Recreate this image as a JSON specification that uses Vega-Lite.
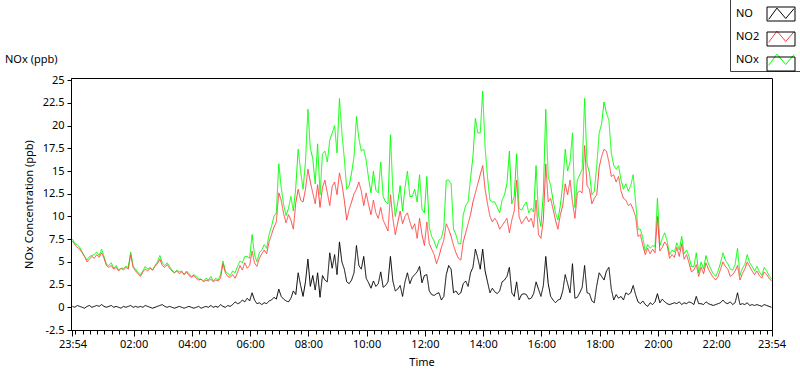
{
  "$schema": "https://vega.github.io/schema/vega-lite/v6.json",
  "width": 701,
  "height": 252,
  "autosize": {"type": "none"},
  "padding": {"left": 71, "top": 78, "right": 28, "bottom": 39},
  "background": "white",
  "config": {
    "font": "Noto Sans",
    "view": {"stroke": "#000000", "strokeWidth": 1},
    "axis": {"grid": false, "domainColor": "#000000", "tickColor": "#000000", "labelColor": "#000000", "titleColor": "#000000", "labelFontSize": 11, "titleFontSize": 11, "titleFontWeight": "normal"}
  },
  "title": {"text": "NOx (ppb)", "anchor": "start", "frame": "group", "dx": -66, "offset": 0, "dy": 78.5, "baseline": "alphabetic", "fontSize": 11, "fontWeight": "normal", "color": "#000000"},
  "data": {"values": [
{"t":0,"NO":0.1,"NO2":7.3,"NOx":7.5},{"t":5,"NO":0.0,"NO2":6.9,"NOx":7.0},{"t":10,"NO":0.2,"NO2":6.6,"NOx":6.9},{"t":15,"NO":0.1,"NO2":6.4,"NOx":6.6},{"t":20,"NO":0.0,"NO2":6.0,"NOx":6.1},{"t":25,"NO":-0.1,"NO2":5.6,"NOx":5.6},{"t":30,"NO":0.1,"NO2":5.0,"NOx":5.2},{"t":35,"NO":0.2,"NO2":5.3,"NOx":5.6},{"t":40,"NO":0.0,"NO2":5.6,"NOx":5.7},{"t":45,"NO":0.1,"NO2":5.4,"NOx":5.8},
{"t":50,"NO":0.2,"NO2":5.8,"NOx":6.1},{"t":55,"NO":0.1,"NO2":5.5,"NOx":5.7},{"t":60,"NO":0.3,"NO2":6.0,"NOx":6.4},{"t":65,"NO":0.1,"NO2":5.4,"NOx":5.6},{"t":70,"NO":0.0,"NO2":4.6,"NOx":4.7},{"t":75,"NO":0.1,"NO2":4.4,"NOx":4.6},{"t":80,"NO":0.2,"NO2":4.6,"NOx":4.9},{"t":85,"NO":0.0,"NO2":4.2,"NOx":4.3},{"t":90,"NO":0.1,"NO2":4.4,"NOx":4.6},{"t":95,"NO":0.0,"NO2":4.0,"NOx":4.1},
{"t":100,"NO":-0.1,"NO2":4.3,"NOx":4.3},{"t":105,"NO":0.1,"NO2":4.1,"NOx":4.3},{"t":110,"NO":0.0,"NO2":4.4,"NOx":4.5},{"t":115,"NO":0.1,"NO2":4.2,"NOx":4.4},{"t":120,"NO":0.2,"NO2":5.8,"NOx":6.1},{"t":125,"NO":0.0,"NO2":4.4,"NOx":4.5},{"t":130,"NO":0.1,"NO2":4.0,"NOx":4.2},{"t":135,"NO":0.0,"NO2":3.7,"NOx":3.8},{"t":140,"NO":0.1,"NO2":3.4,"NOx":3.6},{"t":145,"NO":0.0,"NO2":3.9,"NOx":4.0},
{"t":150,"NO":0.2,"NO2":4.2,"NOx":4.5},{"t":155,"NO":0.1,"NO2":4.0,"NOx":4.2},{"t":160,"NO":0.0,"NO2":4.3,"NOx":4.4},{"t":165,"NO":-0.1,"NO2":4.1,"NOx":4.1},{"t":170,"NO":0.0,"NO2":4.5,"NOx":4.6},{"t":175,"NO":0.1,"NO2":4.8,"NOx":5.0},{"t":180,"NO":0.2,"NO2":5.3,"NOx":5.7},{"t":185,"NO":0.3,"NO2":4.6,"NOx":4.9},{"t":190,"NO":0.1,"NO2":4.4,"NOx":4.6},{"t":195,"NO":0.0,"NO2":4.7,"NOx":4.9},
{"t":200,"NO":0.1,"NO2":4.3,"NOx":4.5},{"t":205,"NO":0.0,"NO2":4.0,"NOx":4.1},{"t":210,"NO":-0.1,"NO2":3.8,"NOx":3.8},{"t":215,"NO":0.0,"NO2":4.0,"NOx":4.1},{"t":220,"NO":0.1,"NO2":3.7,"NOx":3.9},{"t":225,"NO":0.0,"NO2":3.9,"NOx":4.0},{"t":230,"NO":-0.1,"NO2":3.6,"NOx":3.6},{"t":235,"NO":0.0,"NO2":3.9,"NOx":4.0},{"t":240,"NO":0.1,"NO2":3.5,"NOx":3.7},{"t":245,"NO":0.0,"NO2":3.3,"NOx":3.4},
{"t":250,"NO":-0.1,"NO2":3.5,"NOx":3.6},{"t":255,"NO":0.0,"NO2":3.2,"NOx":3.4},{"t":260,"NO":0.1,"NO2":3.0,"NOx":3.1},{"t":265,"NO":-0.1,"NO2":3.1,"NOx":3.1},{"t":270,"NO":0.0,"NO2":2.8,"NOx":2.9},{"t":275,"NO":0.1,"NO2":3.0,"NOx":3.2},{"t":280,"NO":0.0,"NO2":2.9,"NOx":3.0},{"t":285,"NO":0.2,"NO2":3.1,"NOx":3.4},{"t":290,"NO":0.0,"NO2":2.8,"NOx":2.9},{"t":295,"NO":0.1,"NO2":3.0,"NOx":3.2},
{"t":300,"NO":0.0,"NO2":2.9,"NOx":3.0},{"t":305,"NO":0.3,"NO2":3.2,"NOx":3.6},{"t":310,"NO":0.1,"NO2":4.8,"NOx":5.1},{"t":315,"NO":0.0,"NO2":3.8,"NOx":4.0},{"t":320,"NO":0.2,"NO2":3.4,"NOx":3.7},{"t":325,"NO":0.1,"NO2":3.3,"NOx":3.5},{"t":330,"NO":0.3,"NO2":3.6,"NOx":4.0},{"t":335,"NO":0.6,"NO2":3.2,"NOx":3.8},{"t":340,"NO":0.4,"NO2":3.8,"NOx":4.5},{"t":345,"NO":0.5,"NO2":4.6,"NOx":5.1},
{"t":350,"NO":0.8,"NO2":4.1,"NOx":4.9},{"t":355,"NO":0.6,"NO2":4.9,"NOx":5.6},{"t":360,"NO":1.0,"NO2":4.3,"NOx":5.6},{"t":365,"NO":0.7,"NO2":4.6,"NOx":5.4},{"t":370,"NO":1.6,"NO2":6.2,"NOx":8.0},{"t":375,"NO":0.8,"NO2":4.9,"NOx":5.8},{"t":380,"NO":0.4,"NO2":4.5,"NOx":5.0},{"t":385,"NO":0.5,"NO2":5.4,"NOx":6.0},{"t":390,"NO":0.3,"NO2":5.9,"NOx":6.3},{"t":395,"NO":0.5,"NO2":6.3,"NOx":6.9},
{"t":400,"NO":0.4,"NO2":5.9,"NOx":6.5},{"t":405,"NO":0.7,"NO2":7.2,"NOx":8.0},{"t":410,"NO":0.8,"NO2":8.0,"NOx":8.9},{"t":415,"NO":1.1,"NO2":8.8,"NOx":10.0},{"t":420,"NO":0.9,"NO2":9.4,"NOx":10.4},{"t":425,"NO":2.0,"NO2":12.6,"NOx":15.8},{"t":430,"NO":1.2,"NO2":11.8,"NOx":13.2},{"t":435,"NO":0.9,"NO2":10.3,"NOx":11.3},{"t":440,"NO":0.7,"NO2":9.3,"NOx":10.1},{"t":445,"NO":0.6,"NO2":10.2,"NOx":10.9},
{"t":450,"NO":1.0,"NO2":9.6,"NOx":12.2},{"t":455,"NO":1.8,"NO2":8.6,"NOx":10.6},{"t":460,"NO":1.4,"NO2":11.5,"NOx":13.2},{"t":465,"NO":3.8,"NO2":13.0,"NOx":17.4},{"t":470,"NO":2.4,"NO2":11.8,"NOx":15.0},{"t":475,"NO":1.2,"NO2":11.6,"NOx":13.0},{"t":480,"NO":2.8,"NO2":13.0,"NOx":16.0},{"t":485,"NO":5.3,"NO2":15.2,"NOx":21.8},{"t":490,"NO":2.3,"NO2":13.8,"NOx":17.5},{"t":495,"NO":3.5,"NO2":12.6,"NOx":16.4},
{"t":500,"NO":1.9,"NO2":11.4,"NOx":13.6},{"t":505,"NO":3.8,"NO2":13.5,"NOx":18.0},{"t":510,"NO":1.1,"NO2":11.0,"NOx":12.4},{"t":515,"NO":3.5,"NO2":13.2,"NOx":16.9},{"t":520,"NO":3.0,"NO2":14.0,"NOx":17.2},{"t":525,"NO":2.8,"NO2":12.6,"NOx":16.0},{"t":530,"NO":6.0,"NO2":11.2,"NOx":18.4},{"t":535,"NO":4.3,"NO2":13.3,"NOx":19.2},{"t":540,"NO":5.8,"NO2":13.8,"NOx":20.0},{"t":545,"NO":3.6,"NO2":12.4,"NOx":17.0},
{"t":550,"NO":7.2,"NO2":14.8,"NOx":23.0},{"t":555,"NO":5.0,"NO2":13.6,"NOx":19.2},{"t":560,"NO":4.2,"NO2":11.8,"NOx":16.4},{"t":565,"NO":2.8,"NO2":9.6,"NOx":13.0},{"t":570,"NO":2.6,"NO2":10.8,"NOx":13.4},{"t":575,"NO":3.0,"NO2":11.6,"NOx":14.8},{"t":580,"NO":3.8,"NO2":12.5,"NOx":16.6},{"t":585,"NO":6.8,"NO2":13.0,"NOx":21.0},{"t":590,"NO":4.6,"NO2":13.8,"NOx":18.6},{"t":595,"NO":4.2,"NO2":12.8,"NOx":17.2},
{"t":600,"NO":5.6,"NO2":11.2,"NOx":17.4},{"t":605,"NO":3.2,"NO2":12.6,"NOx":16.2},{"t":610,"NO":2.7,"NO2":11.3,"NOx":14.2},{"t":615,"NO":2.1,"NO2":10.2,"NOx":12.6},{"t":620,"NO":2.9,"NO2":11.8,"NOx":15.0},{"t":625,"NO":2.3,"NO2":10.4,"NOx":12.9},{"t":630,"NO":2.6,"NO2":9.8,"NOx":12.6},{"t":635,"NO":3.9,"NO2":11.0,"NOx":16.0},{"t":640,"NO":2.2,"NO2":9.6,"NOx":12.2},{"t":645,"NO":2.4,"NO2":9.0,"NOx":11.6},
{"t":650,"NO":2.8,"NO2":8.4,"NOx":11.4},{"t":655,"NO":5.6,"NO2":12.4,"NOx":19.0},{"t":660,"NO":2.9,"NO2":9.8,"NOx":12.9},{"t":665,"NO":1.8,"NO2":8.0,"NOx":10.0},{"t":670,"NO":2.0,"NO2":9.3,"NOx":11.5},{"t":675,"NO":2.4,"NO2":10.6,"NOx":13.4},{"t":680,"NO":1.2,"NO2":9.2,"NOx":10.6},{"t":685,"NO":2.8,"NO2":10.0,"NOx":13.2},{"t":690,"NO":3.8,"NO2":10.4,"NOx":15.0},{"t":695,"NO":2.6,"NO2":9.4,"NOx":12.2},
{"t":700,"NO":3.3,"NO2":8.6,"NOx":12.2},{"t":705,"NO":3.6,"NO2":9.2,"NOx":13.0},{"t":710,"NO":3.9,"NO2":7.6,"NOx":11.6},{"t":715,"NO":4.5,"NO2":9.8,"NOx":14.6},{"t":720,"NO":2.7,"NO2":8.0,"NOx":10.8},{"t":725,"NO":3.5,"NO2":6.8,"NOx":10.4},{"t":730,"NO":3.6,"NO2":9.4,"NOx":14.4},{"t":735,"NO":1.8,"NO2":7.0,"NOx":8.8},{"t":740,"NO":1.4,"NO2":6.4,"NOx":7.8},{"t":745,"NO":1.3,"NO2":5.8,"NOx":7.3},
{"t":750,"NO":1.5,"NO2":4.8,"NOx":6.5},{"t":755,"NO":1.6,"NO2":5.6,"NOx":7.4},{"t":760,"NO":0.8,"NO2":6.6,"NOx":7.6},{"t":765,"NO":1.2,"NO2":7.4,"NOx":8.8},{"t":770,"NO":3.6,"NO2":9.2,"NOx":14.0},{"t":775,"NO":4.6,"NO2":8.6,"NOx":14.0},{"t":780,"NO":4.2,"NO2":7.8,"NOx":13.6},{"t":785,"NO":1.6,"NO2":6.8,"NOx":8.6},{"t":790,"NO":1.8,"NO2":6.0,"NOx":8.0},{"t":795,"NO":1.4,"NO2":5.4,"NOx":7.0},
{"t":800,"NO":1.6,"NO2":5.2,"NOx":7.0},{"t":805,"NO":2.6,"NO2":7.2,"NOx":10.2},{"t":810,"NO":2.9,"NO2":8.2,"NOx":11.2},{"t":815,"NO":2.3,"NO2":9.2,"NOx":11.6},{"t":820,"NO":3.8,"NO2":10.2,"NOx":14.2},{"t":825,"NO":4.4,"NO2":11.6,"NOx":16.6},{"t":830,"NO":6.4,"NO2":12.6,"NOx":20.8},{"t":835,"NO":5.4,"NO2":13.6,"NOx":19.2},{"t":840,"NO":4.2,"NO2":14.6,"NOx":19.2},{"t":845,"NO":6.4,"NO2":15.6,"NOx":23.8},
{"t":850,"NO":4.0,"NO2":13.0,"NOx":17.6},{"t":855,"NO":2.8,"NO2":11.4,"NOx":14.3},{"t":860,"NO":1.6,"NO2":10.0,"NOx":11.8},{"t":865,"NO":2.1,"NO2":9.4,"NOx":11.6},{"t":870,"NO":1.7,"NO2":9.8,"NOx":11.6},{"t":875,"NO":1.5,"NO2":9.4,"NOx":11.0},{"t":880,"NO":1.8,"NO2":8.6,"NOx":10.4},{"t":885,"NO":2.8,"NO2":9.0,"NOx":11.8},{"t":890,"NO":3.0,"NO2":9.4,"NOx":12.4},{"t":895,"NO":3.4,"NO2":9.8,"NOx":13.6},
{"t":900,"NO":4.4,"NO2":8.2,"NOx":17.2},{"t":905,"NO":1.6,"NO2":9.6,"NOx":11.4},{"t":910,"NO":1.2,"NO2":10.6,"NOx":12.2},{"t":915,"NO":2.8,"NO2":14.0,"NOx":16.9},{"t":920,"NO":0.8,"NO2":10.0,"NOx":10.9},{"t":925,"NO":1.4,"NO2":9.2,"NOx":10.7},{"t":930,"NO":1.5,"NO2":9.6,"NOx":11.2},{"t":935,"NO":1.4,"NO2":10.0,"NOx":11.6},{"t":940,"NO":0.9,"NO2":9.4,"NOx":10.4},{"t":945,"NO":1.0,"NO2":9.8,"NOx":10.9},
{"t":950,"NO":1.5,"NO2":8.8,"NOx":10.5},{"t":955,"NO":2.8,"NO2":11.8,"NOx":15.6},{"t":960,"NO":2.0,"NO2":8.0,"NOx":10.2},{"t":965,"NO":1.2,"NO2":7.6,"NOx":8.9},{"t":970,"NO":2.4,"NO2":9.6,"NOx":12.6},{"t":975,"NO":5.6,"NO2":15.8,"NOx":21.8},{"t":980,"NO":2.6,"NO2":11.6,"NOx":14.4},{"t":985,"NO":1.2,"NO2":12.0,"NOx":13.4},{"t":990,"NO":0.8,"NO2":10.8,"NOx":11.8},{"t":995,"NO":0.5,"NO2":9.6,"NOx":10.4},
{"t":1000,"NO":0.8,"NO2":8.6,"NOx":9.6},{"t":1005,"NO":0.9,"NO2":10.2,"NOx":11.2},{"t":1010,"NO":1.8,"NO2":11.2,"NOx":13.6},{"t":1015,"NO":3.6,"NO2":13.6,"NOx":17.4},{"t":1020,"NO":2.6,"NO2":12.4,"NOx":15.0},{"t":1025,"NO":1.6,"NO2":14.0,"NOx":16.0},{"t":1030,"NO":4.8,"NO2":11.6,"NOx":19.2},{"t":1035,"NO":1.0,"NO2":9.8,"NOx":11.0},{"t":1040,"NO":1.1,"NO2":12.6,"NOx":14.0},{"t":1045,"NO":1.6,"NO2":12.8,"NOx":14.6},
{"t":1050,"NO":2.2,"NO2":12.6,"NOx":15.2},{"t":1055,"NO":4.6,"NO2":17.8,"NOx":23.0},{"t":1060,"NO":1.6,"NO2":13.4,"NOx":15.8},{"t":1065,"NO":1.5,"NO2":13.0,"NOx":14.8},{"t":1070,"NO":0.7,"NO2":11.4,"NOx":12.4},{"t":1075,"NO":0.5,"NO2":12.0,"NOx":12.8},{"t":1080,"NO":2.4,"NO2":12.4,"NOx":15.6},{"t":1085,"NO":3.8,"NO2":15.4,"NOx":19.2},{"t":1090,"NO":3.4,"NO2":16.6,"NOx":20.2},{"t":1095,"NO":3.0,"NO2":17.4,"NOx":22.6},
{"t":1100,"NO":4.0,"NO2":17.2,"NOx":21.4},{"t":1105,"NO":4.4,"NO2":16.0,"NOx":20.6},{"t":1110,"NO":2.0,"NO2":14.4,"NOx":17.0},{"t":1115,"NO":0.8,"NO2":14.6,"NOx":15.6},{"t":1120,"NO":1.4,"NO2":13.8,"NOx":15.2},{"t":1125,"NO":1.0,"NO2":14.4,"NOx":15.6},{"t":1130,"NO":1.2,"NO2":12.8,"NOx":14.0},{"t":1135,"NO":0.8,"NO2":12.0,"NOx":13.0},{"t":1140,"NO":1.6,"NO2":11.8,"NOx":13.6},{"t":1145,"NO":1.4,"NO2":11.2,"NOx":12.8},
{"t":1150,"NO":1.6,"NO2":11.4,"NOx":13.4},{"t":1155,"NO":2.4,"NO2":10.8,"NOx":14.6},{"t":1160,"NO":1.4,"NO2":10.0,"NOx":11.6},{"t":1165,"NO":0.6,"NO2":7.8,"NOx":8.6},{"t":1170,"NO":0.4,"NO2":8.0,"NOx":8.6},{"t":1175,"NO":0.7,"NO2":6.8,"NOx":7.6},{"t":1180,"NO":0.3,"NO2":5.8,"NOx":6.2},{"t":1185,"NO":0.1,"NO2":6.5,"NOx":6.9},{"t":1190,"NO":0.5,"NO2":5.9,"NOx":6.5},{"t":1195,"NO":0.3,"NO2":6.4,"NOx":6.8},
{"t":1200,"NO":0.6,"NO2":6.0,"NOx":6.7},{"t":1205,"NO":1.5,"NO2":10.0,"NOx":12.0},{"t":1210,"NO":0.5,"NO2":6.2,"NOx":6.8},{"t":1215,"NO":0.9,"NO2":6.6,"NOx":7.6},{"t":1220,"NO":0.6,"NO2":7.2,"NOx":8.2},{"t":1225,"NO":0.4,"NO2":6.8,"NOx":7.3},{"t":1230,"NO":0.3,"NO2":5.4,"NOx":5.8},{"t":1235,"NO":0.4,"NO2":5.8,"NOx":6.3},{"t":1240,"NO":0.5,"NO2":5.5,"NOx":6.1},{"t":1245,"NO":0.4,"NO2":6.6,"NOx":7.1},
{"t":1250,"NO":0.6,"NO2":5.6,"NOx":6.3},{"t":1255,"NO":0.3,"NO2":7.0,"NOx":7.8},{"t":1260,"NO":0.5,"NO2":5.3,"NOx":5.9},{"t":1265,"NO":0.4,"NO2":5.8,"NOx":6.3},{"t":1270,"NO":0.6,"NO2":4.9,"NOx":5.6},{"t":1275,"NO":0.5,"NO2":3.9,"NOx":4.5},{"t":1280,"NO":0.3,"NO2":4.1,"NOx":4.5},{"t":1285,"NO":1.2,"NO2":4.7,"NOx":6.0},{"t":1290,"NO":0.4,"NO2":3.4,"NOx":3.8},{"t":1295,"NO":0.4,"NO2":4.4,"NOx":5.0},
{"t":1300,"NO":0.3,"NO2":3.7,"NOx":4.2},{"t":1305,"NO":0.6,"NO2":4.9,"NOx":5.7},{"t":1310,"NO":0.4,"NO2":4.2,"NOx":4.8},{"t":1315,"NO":0.3,"NO2":3.7,"NOx":4.2},{"t":1320,"NO":0.2,"NO2":3.3,"NOx":3.7},{"t":1325,"NO":0.3,"NO2":3.0,"NOx":3.4},{"t":1330,"NO":0.4,"NO2":3.4,"NOx":4.0},{"t":1335,"NO":0.5,"NO2":4.2,"NOx":4.9},{"t":1340,"NO":0.8,"NO2":5.0,"NOx":6.0},{"t":1345,"NO":0.5,"NO2":4.5,"NOx":5.2},
{"t":1350,"NO":0.4,"NO2":4.2,"NOx":4.8},{"t":1355,"NO":0.6,"NO2":3.4,"NOx":4.2},{"t":1360,"NO":0.3,"NO2":3.6,"NOx":4.1},{"t":1365,"NO":0.5,"NO2":4.0,"NOx":4.7},{"t":1370,"NO":1.6,"NO2":4.6,"NOx":6.5},{"t":1375,"NO":0.3,"NO2":3.0,"NOx":3.5},{"t":1380,"NO":0.4,"NO2":3.7,"NOx":4.3},{"t":1385,"NO":0.3,"NO2":4.2,"NOx":4.7},{"t":1390,"NO":0.5,"NO2":5.0,"NOx":5.8},{"t":1395,"NO":0.2,"NO2":4.5,"NOx":4.9},
{"t":1400,"NO":0.3,"NO2":4.0,"NOx":4.5},{"t":1405,"NO":0.2,"NO2":3.6,"NOx":4.0},{"t":1410,"NO":0.3,"NO2":4.0,"NOx":4.5},{"t":1415,"NO":0.2,"NO2":3.5,"NOx":3.9},{"t":1420,"NO":0.1,"NO2":3.2,"NOx":3.5},{"t":1425,"NO":0.3,"NO2":3.9,"NOx":4.4},{"t":1430,"NO":0.2,"NO2":3.6,"NOx":4.0},{"t":1435,"NO":0.1,"NO2":3.2,"NOx":3.5},{"t":1440,"NO":0.0,"NO2":2.9,"NOx":3.1}
  ]},
  "encoding": {
    "y": {
      "field": "v", "type": "quantitative",
      "scale": {"domain": [-2.5, 25.25], "nice": false, "zero": false},
      "axis": {
        "values": [-2.5, 0, 2.5, 5, 7.5, 10, 12.5, 15, 17.5, 20, 22.5, 25],
        "labelExpr": "datum.value < 0 ? '-' + format(-datum.value, '.1~f') : format(datum.value, '.1~f')",
        "title": "NOx Concentration (ppb)", "tickSize": 4, "labelPadding": 3, "titlePadding": 8
      }
    },
    "color": {
      "field": "series", "type": "nominal",
      "scale": {"domain": ["NO", "NO2", "NOx"], "range": ["#000000", "#ff4444", "#00ff00"]},
      "legend": {
        "orient": "none", "legendX": 659, "legendY": -82, "title": null,
        "symbolType": "M-0.88,0.38L-0.29,-0.42L0.34,0.32L0.93,-0.38",
        "symbolSize": 784, "symbolStrokeWidth": 1, "symbolFillColor": "transparent",
        "symbolOffset": 33, "labelOffset": -59.5, "labelAlign": "left",
        "labelFontSize": 11, "labelColor": "#000000", "rowPadding": 1, "padding": 3.5,
        "strokeColor": "#404040"
      }
    },
    "strokeDash": {
      "field": "series", "type": "nominal",
      "scale": {"range": [[1, 0], [1, 0], [1, 0]]},
      "legend": {
        "orient": "none", "legendX": 659, "legendY": -82, "title": null,
        "symbolType": "M-1,-0.5H1V0.5H-1Z",
        "symbolSize": 784, "symbolStrokeWidth": 1, "symbolStrokeColor": "#000000", "symbolFillColor": "transparent",
        "symbolOffset": 33, "labelOffset": 0, "labelAlign": "left", "labelExpr": "' '",
        "labelFontSize": 11, "labelOpacity": 0, "rowPadding": 1, "padding": 3.5
      }
    }
  },
  "layer": [
    {
      "transform": [{"fold": ["NOx"], "as": ["series", "v"]}],
      "mark": {"type": "line", "strokeWidth": 1},
      "encoding": {
        "x": {
          "field": "t", "type": "quantitative",
          "scale": {"domain": [-3, 1441], "nice": false, "zero": false},
          "axis": {
            "orient": "bottom",
            "values": [0, 126, 246, 366, 486, 606, 726, 846, 966, 1086, 1206, 1326, 1440],
            "labelExpr": "timeFormat(datetime(2020, 0, 1, 23, 54 + datum.value), '%H:%M')",
            "title": "Time", "tickSize": 6, "labelPadding": 2, "titlePadding": 7,
            "labelFlush": false, "labelOverlap": false
          }
        }
      }
    },
    {
      "transform": [{"fold": ["NO2"], "as": ["series", "v"]}],
      "mark": {"type": "line", "strokeWidth": 1},
      "encoding": {
        "x": {
          "field": "t", "type": "quantitative",
          "scale": {"domain": [-3, 1441], "nice": false, "zero": false},
          "axis": {
            "orient": "bottom", "labels": false, "title": null, "domain": false, "tickSize": 4,
            "values": [6,21,36,51,66,81,96,111,126,141,156,171,186,201,216,231,246,261,276,291,306,321,336,351,366,381,396,411,426,441,456,471,486,501,516,531,546,561,576,591,606,621,636,651,666,681,696,711,726,741,756,771,786,801,816,831,846,861,876,891,906,921,936,951,966,981,996,1011,1026,1041,1056,1071,1086,1101,1116,1131,1146,1161,1176,1191,1206,1221,1236,1251,1266,1281,1296,1311,1326,1341,1356,1371,1386,1401,1416,1431]
          }
        }
      }
    },
    {
      "transform": [{"fold": ["NO"], "as": ["series", "v"]}],
      "mark": {"type": "line", "strokeWidth": 1},
      "encoding": {
        "x": {
          "field": "t", "type": "quantitative",
          "scale": {"domain": [-3, 1441], "nice": false, "zero": false},
          "axis": null
        }
      }
    }
  ],
  "resolve": {"axis": {"x": "independent"}}
}
